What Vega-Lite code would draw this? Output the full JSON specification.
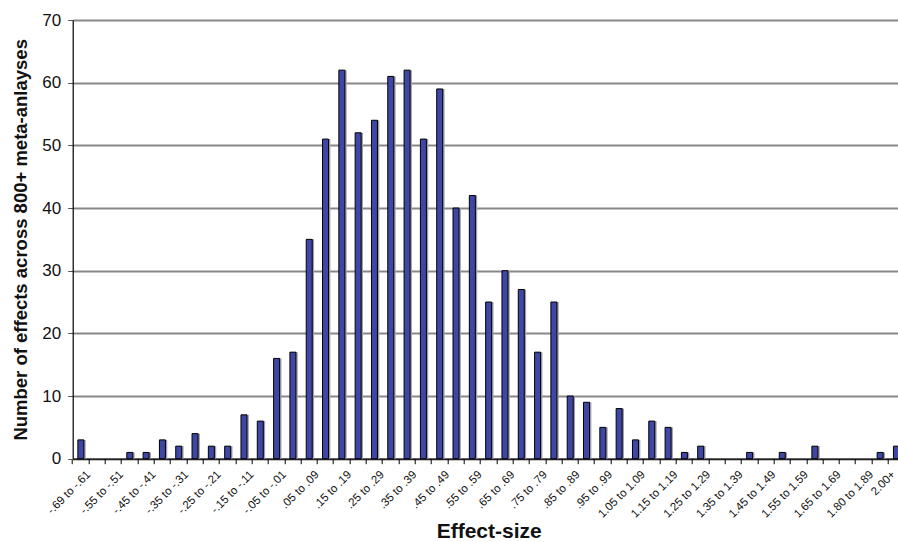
{
  "$schema": "https://vega.github.io/schema/vega-lite/v6.json",
  "autosize": "none",
  "width": 825.3,
  "height": 438.7,
  "padding": {"left": 72.7, "top": 20, "right": 0, "bottom": 83.3},
  "background": "white",
  "config": {
    "view": {"stroke": null},
    "font": "Liberation Sans"
  },
  "data": {
    "values": [
      {"bin": "-.69 to -.61", "n": 3},
      {"bin": "-.60 to -.56", "n": 0},
      {"bin": "-.55 to -.51", "n": 0},
      {"bin": "-.50 to -.46", "n": 1},
      {"bin": "-.45 to -.41", "n": 1},
      {"bin": "-.40 to -.36", "n": 3},
      {"bin": "-.35 to -.31", "n": 2},
      {"bin": "-.30 to -.26", "n": 4},
      {"bin": "-.25 to -.21", "n": 2},
      {"bin": "-.20 to -.16", "n": 2},
      {"bin": "-.15 to -.11", "n": 7},
      {"bin": "-.10 to -.06", "n": 6},
      {"bin": "-.05 to -.01", "n": 16},
      {"bin": ".00 to .04", "n": 17},
      {"bin": ".05 to .09", "n": 35},
      {"bin": ".10 to .14", "n": 51},
      {"bin": ".15 to .19", "n": 62},
      {"bin": ".20 to .24", "n": 52},
      {"bin": ".25 to .29", "n": 54},
      {"bin": ".30 to .34", "n": 61},
      {"bin": ".35 to .39", "n": 62},
      {"bin": ".40 to .44", "n": 51},
      {"bin": ".45 to .49", "n": 59},
      {"bin": ".50 to .54", "n": 40},
      {"bin": ".55 to .59", "n": 42},
      {"bin": ".60 to .64", "n": 25},
      {"bin": ".65 to .69", "n": 30},
      {"bin": ".70 to .74", "n": 27},
      {"bin": ".75 to .79", "n": 17},
      {"bin": ".80 to .84", "n": 25},
      {"bin": ".85 to .89", "n": 10},
      {"bin": ".90 to .94", "n": 9},
      {"bin": ".95 to .99", "n": 5},
      {"bin": "1.00 to 1.04", "n": 8},
      {"bin": "1.05 to 1.09", "n": 3},
      {"bin": "1.10 to 1.14", "n": 6},
      {"bin": "1.15 to 1.19", "n": 5},
      {"bin": "1.20 to 1.24", "n": 1},
      {"bin": "1.25 to 1.29", "n": 2},
      {"bin": "1.30 to 1.34", "n": 0},
      {"bin": "1.35 to 1.39", "n": 0},
      {"bin": "1.40 to 1.44", "n": 1},
      {"bin": "1.45 to 1.49", "n": 0},
      {"bin": "1.50 to 1.54", "n": 1},
      {"bin": "1.55 to 1.59", "n": 0},
      {"bin": "1.60 to 1.64", "n": 2},
      {"bin": "1.65 to 1.69", "n": 0},
      {"bin": "1.70 to 1.79", "n": 0},
      {"bin": "1.80 to 1.89", "n": 0},
      {"bin": "1.90 to 1.99", "n": 1},
      {"bin": "2.00+", "n": 2}
    ]
  },
  "encoding": {
    "x": {
      "field": "bin",
      "type": "nominal",
      "sort": null,
      "scale": {"range": [0, 831.9], "paddingInner": 0, "paddingOuter": 0},
      "axis": {
        "title": "Effect-size",
        "titleFont": "Liberation Sans",
        "titleFontSize": 21,
        "titleFontWeight": "bold",
        "titleColor": "#111111",
        "titleX": 416,
        "titleY": 79,
        "titleBaseline": "alphabetic",
        "titleAnchor": "middle",
        "titleAlign": "center",
        "bandPosition": 0,
        "labelOffset": {"condition": {"test": "datum.value == '2.00+'", "value": -2.5}, "value": 8.16},
        "labelAngle": -45,
        "labelAlign": "right",
        "labelBaseline": "middle",
        "labelFontSize": 11.5,
        "labelColor": "#111111",
        "labelPadding": 9,
        "labelOverlap": false,
        "labelBound": false,
        "labelExpr": "indexof(['-.60 to -.56','-.50 to -.46','-.40 to -.36','-.30 to -.26','-.20 to -.16','-.10 to -.06','.00 to .04','.10 to .14','.20 to .24','.30 to .34','.40 to .44','.50 to .54','.60 to .64','.70 to .74','.80 to .84','.90 to .94','1.00 to 1.04','1.10 to 1.14','1.20 to 1.24','1.30 to 1.34','1.40 to 1.44','1.50 to 1.54','1.60 to 1.64','1.70 to 1.79','1.90 to 1.99'], datum.label) >= 0 ? '' : datum.label",
        "tickSize": 5,
        "tickColor": "#000000",
        "tickWidth": 1,
        "domainColor": "#000000",
        "domainWidth": 1.2,
        "grid": false
      }
    },
    "y": {
      "field": "n",
      "type": "quantitative",
      "scale": {"domain": [0, 70], "nice": false},
      "axis": {
        "title": "Number of effects across 800+ meta-anlayses",
        "titleFont": "Liberation Sans",
        "titleFontSize": 18.5,
        "titleFontWeight": "bold",
        "titleColor": "#111111",
        "titlePadding": 11,
        "values": [0, 10, 20, 30, 40, 50, 60, 70],
        "labelFontSize": 17,
        "labelColor": "#111111",
        "labelPadding": 7,
        "tickSize": 5,
        "tickColor": "#555555",
        "tickWidth": 1,
        "domainColor": "#000000",
        "domainWidth": 1.2,
        "grid": true,
        "gridColor": "#888888",
        "gridWidth": 1.8
      }
    },
    "opacity": {"condition": {"test": "datum.n == 0", "value": 0}, "value": 1}
  },
  "layer": [
    {
      "mark": {"type": "bar", "size": 6.5, "color": "#a0a0a0", "xOffset": 1.6}
    },
    {
      "mark": {"type": "bar", "size": 6, "fill": "#3F47A6", "stroke": "#000000", "strokeWidth": 1}
    }
  ]
}
